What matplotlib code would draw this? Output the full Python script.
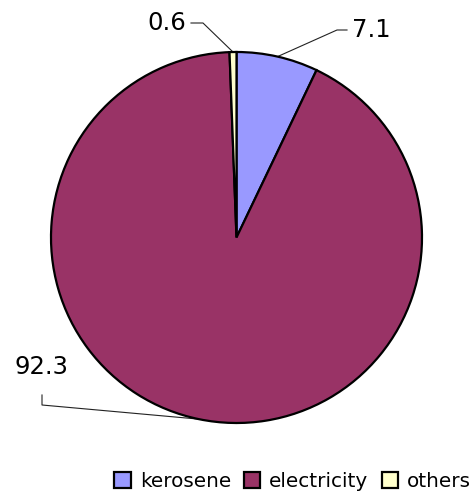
import numpy as np
import matplotlib
matplotlib.use("Agg")
import matplotlib.pyplot as plt

categories = ["kerosene", "electricity", "others"]
values = [7.1, 92.3, 0.6]
value_labels = ["7.1", "92.3", "0.6"]
colors = ["#9999FF", "#993366", "#FFFFCC"]

W, H = 472, 494
fig = plt.figure(figsize=(W / 100, H / 100), dpi=100)
ax = fig.add_axes([0, 0, 1, 1])

cx, cy, r = 236.5, H - 237.5, 185.5
wedges, _ = ax.pie(values, colors=colors, startangle=90, counterclock=False,
                   center=(cx, cy), radius=r, frame=True,
                   wedgeprops=dict(edgecolor="black", linewidth=1.6))
ax.set_xlim(0, W)
ax.set_ylim(0, H)
ax.set_aspect("equal")
ax.axis("off")

def px(x, y):
    return (x, H - y)

# label text positions and leader elbows in pixel coords
label_layout = {
    "kerosene": dict(text=(352, 30), ha="left", elbow=[(347, 30), (337, 30)]),
    "electricity": dict(text=(41, 367), ha="center", elbow=[(42, 395), (42, 405)]),
    "others": dict(text=(186, 23), ha="right", elbow=[(191, 23), (203, 23)]),
}

for w, cat, lab in zip(wedges, categories, value_labels):
    mid = np.deg2rad((w.theta1 + w.theta2) / 2)
    ex, ey = cx + r * np.cos(mid), cy + r * np.sin(mid)
    lay = label_layout[cat]
    pts = [px(*p) for p in lay["elbow"]] + [(ex, ey)]
    xs, ys = zip(*pts)
    ax.plot(xs, ys, color="#222222", lw=0.8, zorder=0.5)
    tx, ty = px(*lay["text"])
    ax.text(tx, ty, lab, ha=lay["ha"], va="center", fontsize=17.5,
            family="DejaVu Sans", color="black")

leg = fig.legend(wedges, categories, ncol=3, frameon=False,
                 loc="lower right", bbox_to_anchor=(471 / W, 3 / H),
                 borderaxespad=0, borderpad=0, fontsize=14.4,
                 handlelength=0.82, handleheight=0.82, handletextpad=0.45,
                 columnspacing=0.65)

fig.savefig("out.png", dpi=100)
